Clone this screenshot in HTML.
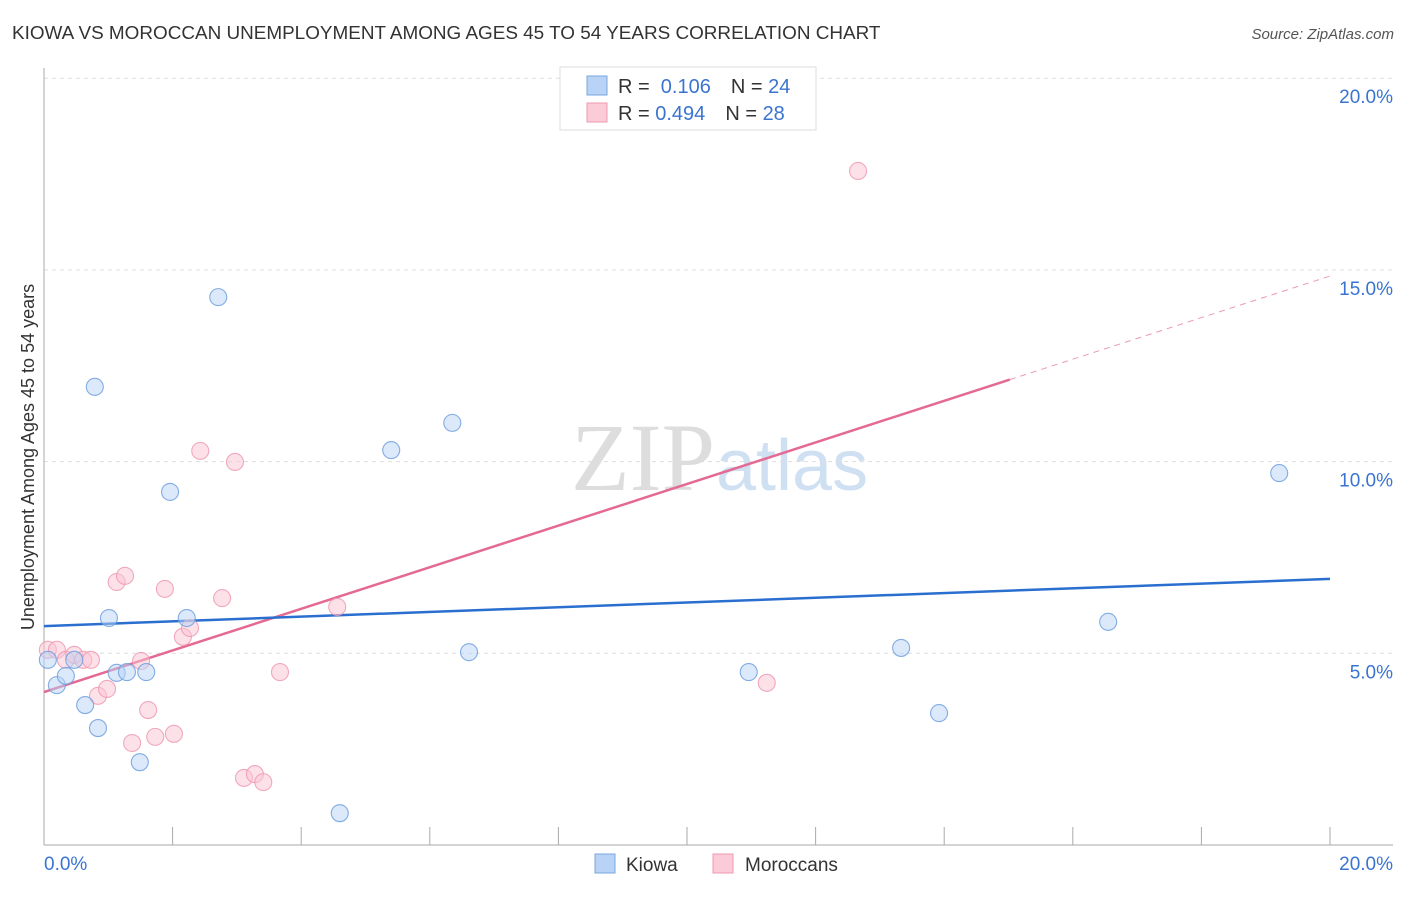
<!DOCTYPE html>
<html><head><meta charset="utf-8"><style>
body{margin:0;background:#fff;font-family:"Liberation Sans",sans-serif}
</style></head><body>
<svg width="1406" height="892" xmlns="http://www.w3.org/2000/svg">
<text x="12" y="39" font-size="18.9" fill="#333">KIOWA VS MOROCCAN UNEMPLOYMENT AMONG AGES 45 TO 54 YEARS CORRELATION CHART</text>
<text x="1394" y="39" font-size="15" fill="#555" font-style="italic" text-anchor="end">Source: ZipAtlas.com</text>
<text x="715" y="490" font-size="96" fill="#ddd" font-family="Liberation Serif" text-anchor="end">ZIP</text>
<text x="716" y="490" font-size="72" fill="#cfe0f3">atlas</text>
<g id="grid"></g><g id="axes"></g><g id="lines"></g><g id="pts"></g>
<text transform="translate(34,457) rotate(-90)" font-size="18" fill="#333" text-anchor="middle">Unemployment Among Ages 45 to 54 years</text>
<g>
<rect x="560" y="67" width="256" height="63" fill="#fff" stroke="#ddd"/>
<rect x="587" y="76" width="20" height="19" fill="#b8d3f5" stroke="#7aa7e0"/>
<rect x="587" y="103" width="20" height="19" fill="#fccbd8" stroke="#ee9ab2"/>
<text x="618" y="93" font-size="20" fill="#333">R = <tspan fill="#3a74d0">&#160;0.106</tspan><tspan dx="20">N = </tspan><tspan fill="#3a74d0">24</tspan></text>
<text x="618" y="120" font-size="20" fill="#333">R = <tspan fill="#3a74d0">0.494</tspan><tspan dx="20">N = </tspan><tspan fill="#3a74d0">28</tspan></text>
</g>
<g>
<rect x="595" y="854" width="20" height="19" fill="#b8d3f5" stroke="#7aa7e0"/>
<text x="626" y="871" font-size="19" fill="#333">Kiowa</text>
<rect x="713" y="854" width="20" height="19" fill="#fccbd8" stroke="#ee9ab2"/>
<text x="745" y="871" font-size="19" fill="#333">Moroccans</text>
</g>
</svg>
<script>
const yTicks=[5,10,15,20];
const xTickLabels=["0.0%","20.0%"];
const kiowaX=[0.06,0.20,0.34,0.47,0.64,0.79,0.84,1.01,1.13,1.29,1.49,1.59,1.96,2.22,2.71,4.60,5.40,6.35,6.61,10.96,13.33,13.92,16.55,19.21];
const kiowaY=[4.83,4.17,4.41,4.83,3.65,11.95,3.05,5.92,4.49,4.51,2.16,4.51,9.21,5.92,14.29,0.83,10.30,11.01,5.03,4.51,5.14,3.44,5.82,9.70];
const morX=[0.06,0.20,0.34,0.47,0.61,0.73,0.84,0.98,1.13,1.26,1.37,1.51,1.62,1.73,1.88,2.02,2.16,2.27,2.43,2.77,2.97,3.11,3.28,3.41,3.67,4.56,11.24,12.66];
const morY=[5.09,5.09,4.83,4.96,4.83,4.83,3.89,4.07,6.86,7.02,2.66,4.80,3.52,2.82,6.68,2.90,5.43,5.66,10.28,6.44,9.99,1.75,1.85,1.64,4.51,6.21,4.23,17.58];
const kiowaTrend=[5.71,6.94];
const morTrend=[3.99,14.84];
const morSolidEnd=15.02;
const X=v=>44+v/20*1286, Y=v=>845-v/5*191.7;
const NS="http://www.w3.org/2000/svg";
function mk(p,t,a){const e=document.createElementNS(NS,t);for(const k in a)e.setAttribute(k,a[k]);document.getElementById(p).appendChild(e);return e;}
yTicks.forEach(t=>{
 const l=mk('grid','line',{x1:44,x2:1393,y1:Y(t),y2:Y(t),stroke:'#ddd','stroke-dasharray':'4,4'});
 
 
 const tx=mk('grid','text',{x:1393,y:Y(t)+25,'font-size':19,fill:'#3a74d0','text-anchor':'end'});
 tx.textContent=t.toFixed(1)+'%';
 
 
});
let a=mk('axes','line',{x1:44,x2:44,y1:68,y2:845,stroke:'#aaa'});


a=mk('axes','line',{x1:44,x2:1393,y1:845,y2:845,stroke:'#aaa'});


for(let i=0;i<=10;i++){const t=mk('axes','line',{x1:X(i*2),x2:X(i*2),y1:827,y2:845,stroke:'#aaa'});
 
 }
[[0,'start',44],[20,'end',1393]].forEach((d,i)=>{const t=mk('axes','text',{x:d[2],y:870,'font-size':19,fill:'#3a74d0','text-anchor':d[1]});t.textContent=xTickLabels[i];
 
 });
function pts(xs,ys,f,s,n){xs.forEach((x,i)=>{const c=mk('pts','circle',{cx:X(x),cy:Y(ys[i]),r:8.5,fill:f,'fill-opacity':0.5,stroke:s,'stroke-width':1.1,'stroke-opacity':0.85});
 
 });}
pts(morX,morY,'#fbc4d3','#ee9ab2','moroccan-point');
pts(kiowaX,kiowaY,'#b8d3f5','#6f9fde','kiowa-point');
const ms=v=>morTrend[0]+(morTrend[1]-morTrend[0])*v/20;
let l=mk('lines','line',{x1:X(0),y1:Y(morTrend[0]),x2:X(morSolidEnd),y2:Y(ms(morSolidEnd)),stroke:'#e46a93','stroke-width':2.5});


l=mk('lines','line',{x1:X(morSolidEnd),y1:Y(ms(morSolidEnd)),x2:X(20),y2:Y(morTrend[1]),stroke:'#e99ab4','stroke-width':1,'stroke-dasharray':'6,5'});


l=mk('lines','line',{x1:X(0),y1:Y(kiowaTrend[0]),x2:X(20),y2:Y(kiowaTrend[1]),stroke:'#2a6fd0','stroke-width':2.5});


</script>
</body></html>
